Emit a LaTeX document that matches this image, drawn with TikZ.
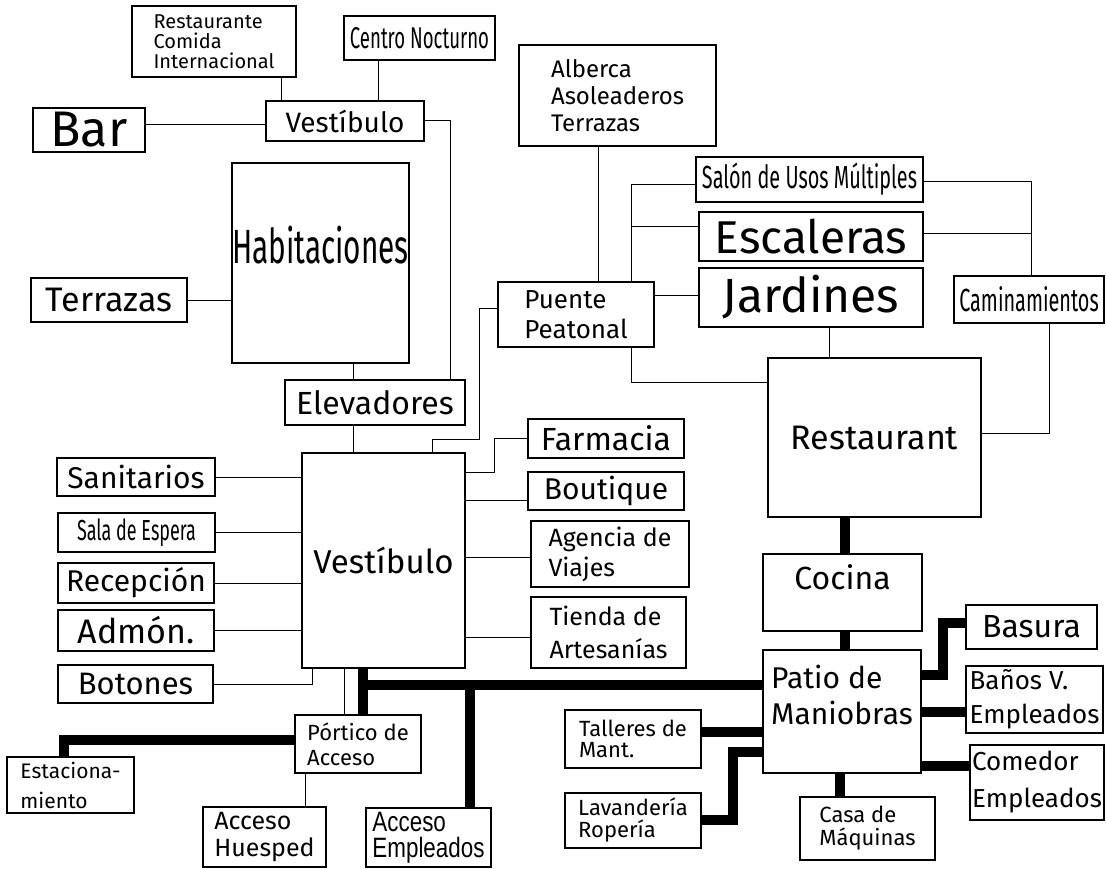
\documentclass[tikz,border=0pt]{standalone}
\usepackage{fontspec}
\setmainfont{Fira Sans}
\newfontfamily\narrowfont[FakeStretch=0.62]{Fira Sans}
\newfontfamily\plainnarrow[FakeStretch=0.8]{Liberation Sans}
\usepackage{tikz}
\usetikzlibrary{positioning}
\newcommand\fsz[2]{\fontsize{#1pt}{#2pt}\selectfont}

\begin{document}
\begin{tikzpicture}[
        x=1pt, y=-1pt,
        box/.style={
            draw,
            fill=white,
            line width=2.2pt,
            inner sep=0pt,
            outer sep=0pt,
            anchor=north west,
            align=left
        },
        link/.style={
            line width=1pt
        },
        trunk/.style={
            line width=10pt
        }
    ]
        \useasboundingbox (0,0) rectangle (1106,869);

        % hotel wing
        \node[box, minimum width=164pt, minimum height=71pt, font=\fsz{20}{20}] (rci) at (132,6) {Restaurante\\Comida\\Internacional};
        \node[box, minimum width=151pt, minimum height=44pt, font=\narrowfont\fsz{30}{32}] (cn) at (344,16) {Centro Nocturno};
        \node[box, minimum width=158pt, minimum height=40pt, font=\fsz{28}{30}] (vtop) at (266,101) {Vestíbulo};
        \node[box, minimum width=112pt, minimum height=44pt, font=\fsz{50}{50}] (bar) at (33,108) {Bar};
        \node[box, minimum width=172pt, minimum height=200pt, font=\narrowfont\fsz{48}{50}, text depth=36pt] (hab) at (232,163) {Habitaciones};
        \node[box, minimum width=156pt, minimum height=44pt, font=\fsz{34}{36}] (terr) at (31,278) {Terrazas};
        \node[box, minimum width=180pt, minimum height=45pt, font=\fsz{32}{34}] (elev) at (285,380) {Elevadores};

        % main lobby
        \node[box, minimum width=163pt, minimum height=215pt, font=\fsz{33}{35}] (vbig) at (302,453) {Vestíbulo};
        \node[box, minimum width=158pt, minimum height=38pt, font=\fsz{30}{32}] (san) at (57,458) {Sanitarios};
        \node[box, minimum width=157pt, minimum height=39pt, font=\narrowfont\fsz{29}{30}] (sala) at (58,513) {Sala de Espera};
        \node[box, minimum width=156pt, minimum height=40pt, font=\fsz{30}{32}] (rec) at (58,563) {Recepción};
        \node[box, minimum width=156pt, minimum height=41pt, font=\fsz{34}{36}] (adm) at (58,610) {Admón.};
        \node[box, minimum width=155pt, minimum height=38pt, font=\fsz{31}{33}] (bot) at (58,665) {Botones};
        \node[box, minimum width=156pt, minimum height=39pt, font=\fsz{32}{34}] (farm) at (528,419) {Farmacia};
        \node[box, minimum width=156pt, minimum height=38pt, font=\fsz{30}{32}] (bout) at (528,472) {Boutique};
        \node[box, minimum width=158pt, minimum height=66pt, font=\fsz{25}{30}] (agen) at (531,521) {Agencia de\\Viajes};
        \node[box, minimum width=155pt, minimum height=71pt, font=\fsz{25}{33}] (tienda) at (531,597) {Tienda de\\Artesanías};

        % pool and gardens
        \node[box, minimum width=197pt, minimum height=101pt, font=\fsz{24}{27}] (alb) at (519,45) {Alberca\\Asoleaderos\\Terrazas};
        \node[box, minimum width=156pt, minimum height=65pt, font=\fsz{26}{30}] (puente) at (498,282) {Puente\\Peatonal};
        \node[box, minimum width=227pt, minimum height=45pt, font=\narrowfont\fsz{32}{34}] (salon) at (696,157) {Salón de Usos Múltiples};
        \node[box, minimum width=224pt, minimum height=49pt, font=\fsz{46}{48}] (esc) at (699,212) {Escaleras};
        \node[box, minimum width=224pt, minimum height=59pt, font=\fsz{48}{50}] (jard) at (699,268) {Jardines};
        \node[box, minimum width=150pt, minimum height=47pt, font=\narrowfont\fsz{32}{34}] (cam) at (954,276) {Caminamientos};
        \node[box, minimum width=213pt, minimum height=159pt, font=\fsz{34}{36}] (rest) at (768,358) {Restaurant};

        % service area
        \node[box, minimum width=159pt, minimum height=77pt, font=\fsz{32}{34}, text depth=30pt] (cocina) at (763,554) {Cocina};
        \node[box, minimum width=158pt, minimum height=123pt, font=\fsz{30}{36}, text depth=33pt] (patio) at (763,650) {Patio de\\Maniobras};
        \node[box, minimum width=131pt, minimum height=44pt, font=\fsz{32}{34}] (bas) at (966,605) {Basura};
        \node[box, minimum width=137pt, minimum height=67pt, font=\fsz{26}{34}] (banos) at (966,666) {Baños V.\\Empleados};
        \node[box, minimum width=134pt, minimum height=75pt, font=\fsz{26}{37}] (com) at (970,745) {Comedor\\Empleados};
        \node[box, minimum width=136pt, minimum height=58pt, font=\fsz{22}{21}] (tall) at (565,710) {Talleres de\\Mant.};
        \node[box, minimum width=136pt, minimum height=55pt, font=\fsz{22}{22}] (lav) at (565,793) {Lavandería\\Ropería};
        \node[box, minimum width=135pt, minimum height=63pt, font=\fsz{22}{23}] (casa) at (800,797) {Casa de\\Máquinas};

        % entrances
        \node[box, minimum width=126pt, minimum height=58pt, font=\fsz{22}{25}] (port) at (295,715) {Pórtico de\\Acceso};
        \node[box, minimum width=127pt, minimum height=56pt, font=\fsz{21}{30}] (est) at (7,757) {Estaciona-\\miento};
        \node[box, minimum width=123pt, minimum height=60pt, font=\fsz{25}{27}] (ahue) at (203,807) {Acceso\\Huesped};
        \node[box, minimum width=125pt, minimum height=59pt, font=\plainnarrow\fsz{28}{26}] (aemp) at (366,808) {Acceso\\Empleados};

        % thin links
        \draw[link] (281,0 |- rci.south) -- (281,0 |- vtop.north);
        \draw[link] (378,0 |- cn.south) -- (378,0 |- vtop.north);
        \draw[link] (0,125 -| bar.east) -- (0,125 -| vtop.west);
        \draw[link] (vtop.east) -- (450,0 |- vtop.east) -- (450,0 |- elev.north);
        \draw[link] (terr.east) -- (terr.east -| hab.west);
        \draw[link] (353,0 |- hab.south) -- (353,0 |- elev.north);
        \draw[link] (353,0 |- elev.south) -- (353,0 |- vbig.north);
        \draw[link] (432,0 |- vbig.north) -- (432,439) -- (479,439) -- (479,308) -- (0,308 -| puente.west);
        \draw[link] (598,0 |- alb.south) -- (598,0 |- puente.north);
        \draw[link] (631,0 |- puente.north) |- (0,185 -| salon.west);
        \draw[link] (631,227) -- (0,227 -| esc.west);
        \draw[link] (0,295 -| puente.east) -- (0,295 -| jard.west);
        \draw[link] (631,0 |- puente.south) -- (631,382) -- (0,382 -| rest.west);
        \draw[link] (829,0 |- jard.south) -- (829,0 |- rest.north);
        \draw[link] (0,182 -| salon.east) -| (1031,0 |- cam.north);
        \draw[link] (0,234 -| esc.east) -- (1031,234);
        \draw[link] (1049,0 |- cam.south) |- (0,433 -| rest.east);
        \draw[link] (san.east) -- (san.east -| vbig.west);
        \draw[link] (sala.east) -- (sala.east -| vbig.west);
        \draw[link] (rec.east) -- (rec.east -| vbig.west);
        \draw[link] (adm.east) -- (adm.east -| vbig.west);
        \draw[link] (bot.east) -| (312,0 |- vbig.south);
        \draw[link] (0,472 -| vbig.east) -- (494,472) |- (farm.west);
        \draw[link] (0,500 -| vbig.east) -- (0,500 -| bout.west);
        \draw[link] (0,557 -| vbig.east) -- (0,557 -| agen.west);
        \draw[link] (0,637 -| vbig.east) -- (0,637 -| tienda.west);
        \draw[link] (344,0 |- vbig.south) -- (344,0 |- port.north);
        \draw[link] (305,0 |- port.south) -- (305,0 |- ahue.north);

        % service trunks
        \draw[trunk] (845,0 |- rest.south) -- (845,0 |- cocina.north);
        \draw[trunk] (845,0 |- cocina.south) -- (845,0 |- patio.north);
        \draw[trunk] (363,0 |- vbig.south) -- (363,0 |- port.north);
        \draw[trunk] (358,685) -- (0,685 -| patio.west);
        \draw[trunk] (470,685) -- (470,0 |- aemp.north);
        \draw[trunk] (0,740 -| port.west) -| (64,0 |- est.north);
        \draw[trunk] (0,675 -| patio.east) -- (943,675) |- (0,623 -| bas.west);
        \draw[trunk] (0,712 -| patio.east) -- (0,712 -| banos.west);
        \draw[trunk] (0,766 -| patio.east) -- (0,766 -| com.west);
        \draw[trunk] (840,0 |- patio.south) -- (840,0 |- casa.north);
        \draw[trunk] (0,732 -| tall.east) -- (0,732 -| patio.west);
        \draw[trunk] (0,820 -| lav.east) -- (733,820) -- (733,752) -- (0,752 -| patio.west);

    \end{tikzpicture}
\end{document}
